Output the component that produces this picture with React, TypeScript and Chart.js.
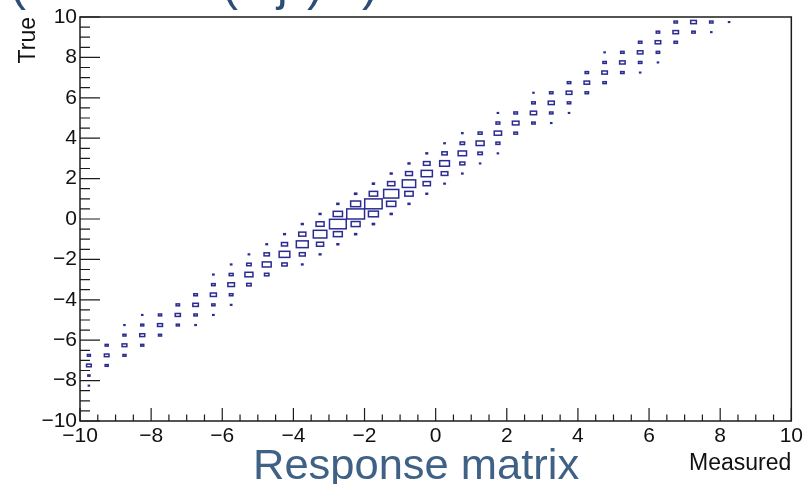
import React, { useEffect, useRef } from "react";
import { Chart, registerables } from "chart.js";

Chart.register(...registerables);

// Measured bin centres (bin width 0.5)
const measuredCenters = [
  -9.75, -9.25, -8.75, -8.25, -7.75, -7.25, -6.75, -6.25, -5.75, -5.25,
  -4.75, -4.25, -3.75, -3.25, -2.75, -2.25, -1.75, -1.25, -0.75, -0.25,
  0.25, 0.75, 1.25, 1.75, 2.25, 2.75, 3.25, 3.75, 4.25, 4.75,
  5.25, 5.75, 6.25, 6.75, 7.25, 7.75, 8.25,
];

// Offset (True - Measured) of each diagonal band
const bandShifts = [3.5, 3.0, 2.5, 2.0, 1.5];

// Bin contents along each band (arbitrary units, max = 100)
const bandPlus2 = [0, 0, 6, 6, 0, 0, 0, 7, 7, 7, 8, 9, 10, 10, 11, 12, 11, 10, 10, 9, 7, 7, 0, 6, 0, 6, 0, 0, 0, 6, 0, 0, 0, 0, 0, 0, 0];
const bandPlus1 = [17, 17, 17, 17, 18, 19, 20, 20, 22, 25, 30, 34, 40, 45, 52, 56, 47, 41, 39, 37, 30, 25, 22, 21, 20, 20, 19, 19, 19, 19, 19, 19, 19, 19, 0, 0, 0];
const bandMain = [26, 26, 27, 28, 28, 29, 31, 34, 37, 45, 50, 60, 67, 76, 94, 100, 98, 85, 75, 63, 55, 47, 45, 41, 37, 35, 34, 32, 31, 31, 31, 31, 31, 31, 32, 0, 0];
const bandMinus1 = [12, 17, 17, 17, 17, 17, 19, 18, 20, 25, 25, 30, 33, 40, 50, 50, 56, 52, 47, 41, 37, 28, 25, 22, 20, 19, 19, 19, 19, 19, 19, 19, 19, 19, 19, 19, 0];
const bandMinus2 = [6, 0, 0, 0, 0, 0, 7, 7, 7, 0, 0, 0, 8, 9, 10, 11, 12, 11, 10, 9, 7, 7, 6, 6, 0, 0, 6, 6, 0, 0, 0, 6, 6, 0, 0, 6, 6];

const bands = [bandPlus2, bandPlus1, bandMain, bandMinus1, bandMinus2];

const axisMin = -10;
const axisMax = 10;
const majorStep = 2;
const minorStepX = 0.5;
const minorStepY = 0.5;
const binHalf = 0.25;

const BOX_COLOR = "#2b2b90";
const AXIS_COLOR = "#1c1c1c";
const FONT = "'Liberation Sans', Arial, Helvetica, sans-serif";

const minus = (v: number) => String(v).replace("-", "\u2212");

const rootPlugin = {
  id: "rootBoxes",
  afterDatasetsDraw(chart: any) {
    const { ctx, chartArea: ca, scales } = chart;
    const xs = scales.x;
    const ys = scales.y;
    let maxV = 0;
    chart.data.datasets.forEach((ds: any) =>
      ds.data.forEach((p: any) => {
        if (p.v > maxV) maxV = p.v;
      })
    );
    ctx.save();
    ctx.strokeStyle = BOX_COLOR;
    ctx.lineWidth = 1.5;
    chart.data.datasets.forEach((ds: any) => {
      ds.data.forEach((p: any) => {
        if (!p.v) return;
        const f = p.v / maxV;
        const x0 = xs.getPixelForValue(p.x - binHalf * f);
        const x1 = xs.getPixelForValue(p.x + binHalf * f);
        const y0 = ys.getPixelForValue(p.y + binHalf * f);
        const y1 = ys.getPixelForValue(p.y - binHalf * f);
        ctx.strokeRect(x0, y0, Math.max(x1 - x0, 0.6), Math.max(y1 - y0, 0.6));
      });
    });
    ctx.restore();

    // frame
    ctx.save();
    ctx.strokeStyle = AXIS_COLOR;
    ctx.lineWidth = 1.5;
    ctx.strokeRect(ca.left, ca.top, ca.right - ca.left, ca.bottom - ca.top);
    ctx.lineWidth = 1.2;
    ctx.beginPath();
    const nx = Math.round((axisMax - axisMin) / minorStepX);
    for (let k = 0; k <= nx; k++) {
      const v = axisMin + k * minorStepX;
      const px = xs.getPixelForValue(v);
      const major = Math.abs(v / majorStep - Math.round(v / majorStep)) < 1e-6;
      const len = major ? 13 : 6.5;
      ctx.moveTo(px, ca.bottom);
      ctx.lineTo(px, ca.bottom - len);
    }
    const ny = Math.round((axisMax - axisMin) / minorStepY);
    for (let k = 0; k <= ny; k++) {
      const v = axisMin + k * minorStepY;
      const py = ys.getPixelForValue(v);
      const major = Math.abs(v / majorStep - Math.round(v / majorStep)) < 1e-6;
      const len = major ? 20 : 10;
      ctx.moveTo(ca.left, py);
      ctx.lineTo(ca.left + len, py);
    }
    ctx.stroke();
    ctx.restore();
  },
};

export default function App() {
  const ref = useRef<HTMLCanvasElement | null>(null);

  useEffect(() => {
    if (!ref.current) return;
    const datasets = bands.map((band, b) => ({
      label: "band" + b,
      data: measuredCenters
        .map((m, i) => ({ x: m, y: m + bandShifts[b], v: band[i] }))
        .filter((p) => p.v > 0),
      pointRadius: 0,
      pointHoverRadius: 0,
      showLine: false,
    }));
    const chart = new Chart(ref.current, {
      type: "scatter",
      data: { datasets },
      options: {
        animation: false,
        responsive: false,
        events: [],
        layout: { padding: { top: 17, right: 14, left: 0, bottom: 0 } },
        plugins: { legend: { display: false }, tooltip: { enabled: false }, title: { display: false } },
        scales: {
          x: {
            type: "linear",
            min: axisMin,
            max: axisMax,
            grid: { display: false, drawTicks: false },
            border: { display: false },
            ticks: {
              stepSize: majorStep,
              autoSkip: false,
              maxRotation: 0,
              padding: 3,
              color: "#111",
              font: { family: FONT, size: 21 },
              callback: (v: any) => minus(v),
            },
            title: {
              display: true,
              text: "Measured",
              align: "end",
              color: "#111",
              font: { family: FONT, size: 23 },
              padding: { top: 0, bottom: 6.5 },
            },
            afterFit: (s: any) => {
              s.height = 63;
            },
          },
          y: {
            type: "linear",
            min: axisMin,
            max: axisMax,
            grid: { display: false, drawTicks: false },
            border: { display: false },
            ticks: {
              stepSize: majorStep,
              autoSkip: false,
              padding: 3,
              color: "#111",
              font: { family: FONT, size: 21 },
              callback: (v: any) => minus(v),
            },
            title: {
              display: true,
              text: "True",
              align: "end",
              color: "#111",
              font: { family: FONT, size: 23 },
              padding: { top: 15, bottom: 0 },
            },
            afterFit: (s: any) => {
              s.width = 80;
            },
          },
        },
      },
      plugins: [rootPlugin],
    } as any);
    return () => chart.destroy();
  }, []);

  const frag = (left: number, text: string) => (
    <span
      style={{
        position: "absolute",
        left,
        top: -39.6,
        fontSize: 48,
        lineHeight: "48px",
        fontFamily: FONT,
        color: "#2c4e74",
        whiteSpace: "pre",
      }}
    >
      {text}
    </span>
  );

  return (
    <div
      style={{
        position: "fixed",
        left: 0,
        top: 0,
        width: 806,
        height: 484,
        background: "#fff",
        overflow: "hidden",
      }}
    >
      <canvas ref={ref} width={806} height={484} style={{ position: "absolute", left: 0, top: 0, width: 806, height: 484 }} />
      <div style={{ position: "absolute", left: 0, top: 0, width: 806, height: 13, overflow: "hidden" }}>
        {frag(10, "(")}
        {frag(222, "(")}
        {frag(277, "j")}
        {frag(307, ")")}
        {frag(362, ")")}
      </div>
      <div
        style={{
          position: "absolute",
          left: 253,
          top: 443.5,
          fontSize: 42,
          lineHeight: "42px",
          fontFamily: FONT,
          color: "#3f6186",
          whiteSpace: "nowrap",
          transform: "scaleX(1.035)",
          transformOrigin: "left top",
        }}
      >
        Response matrix
      </div>
    </div>
  );
}
